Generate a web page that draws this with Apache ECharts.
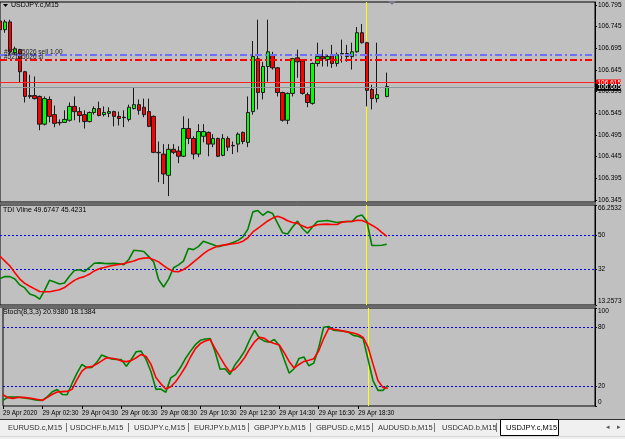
<!DOCTYPE html>
<html><head><meta charset="utf-8">
<script src="https://cdn.jsdelivr.net/npm/echarts@6/dist/echarts.min.js"></script>
<style>html,body{margin:0;padding:0;background:#c0c0c0;}#c{width:625px;height:439px;}</style>
</head><body><div id="c"></div><script>
// ---- data ----
const symbol = 'USDJPY.c,M15';
const opens = [106.758,106.738,106.756,106.685,106.692,106.641,106.586,106.586,106.584,106.520,106.577,106.542,106.524,106.524,106.529,106.561,106.549,106.542,106.526,106.547,106.556,106.542,106.545,106.549,106.538,106.536,106.531,106.556,106.565,106.559,106.549,106.538,106.455,106.451,106.402,106.462,106.458,106.446,106.510,106.487,106.451,106.492,106.501,106.474,106.487,106.448,106.487,106.471,106.474,106.501,106.478,106.549,106.671,106.593,106.653,106.680,106.650,106.593,106.529,106.591,106.673,106.666,106.588,106.568,106.660,106.676,106.669,106.678,106.660,106.683,106.683,106.676,106.687,106.731,106.708,106.600,106.579,null,106.584];
const closes = [106.738,106.756,106.687,106.694,106.641,106.584,106.584,106.579,106.520,106.579,106.538,106.522,106.523,106.531,106.561,106.549,106.540,106.526,106.547,106.556,106.540,106.547,106.549,106.538,106.533,106.535,106.559,106.565,106.552,106.542,106.515,106.455,106.454,106.405,106.462,106.455,106.446,106.510,106.487,106.451,106.503,106.503,106.474,106.487,106.446,106.487,106.467,106.470,106.497,106.480,106.547,106.676,106.593,106.653,106.687,106.650,106.593,106.529,106.591,106.671,106.664,106.591,106.570,106.660,106.676,106.671,106.676,106.660,106.680,106.682,106.676,106.687,106.731,106.708,106.598,106.579,106.588,null,106.607];
const lows = [106.731,106.731,106.680,106.680,106.616,106.570,106.579,106.577,106.506,106.517,106.524,106.513,106.517,106.524,106.526,106.529,106.524,106.510,106.524,106.542,106.538,106.538,106.536,106.515,106.517,106.513,106.526,106.554,106.542,106.536,106.513,106.453,106.386,106.382,106.354,106.451,106.430,106.444,106.474,106.439,106.444,106.478,106.446,106.467,106.444,106.446,106.458,106.451,106.455,106.474,106.467,106.542,106.554,106.577,106.618,106.646,106.584,106.526,106.520,106.584,106.627,106.588,106.559,106.565,106.653,106.653,106.653,106.650,106.653,106.662,106.664,106.646,106.685,106.706,106.561,106.554,106.570,null,106.582];
const highs = [106.777,106.761,106.761,106.699,106.694,106.643,106.634,106.630,106.586,106.584,106.584,106.563,106.531,106.552,106.570,106.584,106.559,106.552,106.549,106.561,106.572,106.561,106.559,106.551,106.549,106.552,106.565,106.604,106.577,106.579,106.579,106.540,106.480,106.474,106.474,106.474,106.469,106.538,106.533,106.492,106.520,106.520,106.503,106.497,106.489,106.497,106.492,106.480,106.501,106.503,106.584,106.712,106.761,106.664,106.761,106.687,106.652,106.595,106.593,106.673,106.692,106.669,106.593,106.662,106.708,106.692,106.680,106.703,106.685,106.715,106.703,106.708,106.744,106.751,106.710,106.611,106.708,null,106.639];
const tdiSignal = [39.1,36.5,33.9,30.4,27.0,24.7,23.2,21.8,20.4,20.3,20.3,20.8,21.3,22.5,24.4,26.3,27.6,28.3,29.5,31.3,32.5,33.1,33.8,34.3,34.7,35.2,35.9,36.6,37.6,38.1,38.3,37.3,36.1,34.1,32.3,31.1,30.9,32.1,33.7,36.0,38.1,40.3,42.2,43.5,44.5,45.0,45.4,45.7,46.1,47.1,48.9,52.0,53.9,55.8,57.8,59.3,60.3,59.4,57.9,57.0,56.5,55.2,54.1,54.9,55.8,56.0,56.1,55.9,55.9,57.2,57.5,57.5,58.2,58.0,57.0,55.5,54.0,51.8,49.6747];
const tdiPrice = [27.3,28.3,28.3,27.0,23.9,22.3,19.1,18.2,16.4,21.0,26.4,25.5,24.4,24.9,28.5,31.5,31.9,31.0,33.0,35.4,35.6,35.3,35.2,35.3,35.1,34.6,37.5,42.3,42.0,41.6,38.9,36.0,26.6,22.8,27.0,33.0,34.5,36.5,43.2,42.6,44.2,47.0,46.1,45.2,44.1,44.8,45.5,46.4,47.5,49.4,53.5,62.6,63.3,60.8,62.8,61.7,56.5,51.5,50.9,54.6,57.7,53.8,51.3,54.6,57.5,57.8,58.0,57.5,57.0,57.4,57.5,57.5,60.2,61.0,57.5,44.8,44.8,44.9,45.4231];
const stochMain = [5.7,9.1,9.1,9.1,8.4,7.7,6.8,6.0,5.7,9.5,14.5,16.9,11.8,11.5,23,33.5,42.5,39,39.3,44.5,52,50,48,47.5,47.3,40.5,47.5,55.3,56,47.5,35,17,17.3,14.0,28.7,32,39.5,48.5,56,62.6,67,68.4,68.8,55.4,37.5,38,32.3,41.8,48.5,56.2,67.6,77.3,69,66.2,65.2,67.9,61.8,47.5,33.6,38,48.5,50,41,43.8,59.8,80.3,81.2,77.3,76.8,76.4,75.5,72.1,71.2,68.8,47.5,26,15.9,15.9,20.938];
const stochSignal = [11.5,8.4,7.8,8.8,8.8,8.3,7.6,6.7,5.8,8.8,12,14.3,14.7,14.9,17,27,35.5,39.7,40.2,42.8,46,49.2,48.7,48,45.8,45.3,46.3,49.2,52.6,50.5,42.5,29,22.6,17.3,19.6,24.7,32,40,50,58.6,63.7,66.3,67.8,58.5,49.8,41.4,34.8,37.5,42.8,49.5,58.2,65.5,70.2,69,65.5,63.7,62.3,54.5,45.5,38.7,42.4,45.5,46.6,48.2,56.3,68.8,79,78.4,77.5,76.4,75.4,74.4,72.9,70,60,43,26,19,18.1384];
const priceTicks = [106.795,106.745,106.695,106.645,106.595,106.545,106.495,106.445,106.395,106.345];
const tdiTicks = [66.2532,50,32,13.2573];
const stochTicks = [100,80,20,0];
const tdiLevels = [50,32];
const stochLevels = [80,20];
const orderLines = {entry:106.680, sl:106.669, ask:106.615, bid:106.605};
const vlineIndex = 74;
const tabs = ['EURUSD.c,M15','USDCHF.b,M15','USDJPY.c,M15','EURJPY.b,M15','GBPJPY.b,M15','GBPUSD.c,M15','AUDUSD.b,M15','USDCAD.b,M15'];
const activeTab = 'USDJPY.c,M15';
const nCats = 121;
// time categories (M15 bars from 29 Apr 00:30)
const categories = [];
for (let i = 0; i < nCats; i++) {
  const m = 30 + 15 * i, d = 29 + Math.floor(m / 1440), mm = m % 1440;
  const h = Math.floor(mm / 60), mi = mm % 60;
  categories.push(d + ' Apr ' + String(h).padStart(2,'0') + ':' + String(mi).padStart(2,'0'));
}
const candles = opens.map((o,i)=> o==null ? '-' : [o, closes[i], lows[i], highs[i]]);

const FONT = 'Liberation Sans';
const chart = echarts.init(document.getElementById('c'), null, {renderer:'canvas'});
const L = 0, W = 595;
const grids = [
  {left:L, width:W, top:2, height:200},
  {left:L, width:W, top:205, height:100},
  {left:L, width:W, top:308, height:98}
].map(g=>Object.assign(g,{show:true, borderColor:'#000', borderWidth:1, backgroundColor:'#c0c0c0'}));
const labelInterval = (idx)=> idx % 8 === 0 && idx <= 72;
const xAxes = [0,1,2].map(i=>({
  type:'category', gridIndex:i, data:categories, boundaryGap:false,
  axisLine:{show:false}, splitLine:{show:false}, splitArea:{show:false},
  axisTick: i===2 ? {show:true, interval:labelInterval, length:3, lineStyle:{color:'#000'}} : {show:false},
  axisLabel: i===2 ? {show:true, interval:labelInterval, hideOverlap:false, align:'left', margin:4, fontSize:6.3, fontFamily:FONT, color:'#000',
     formatter:(v,idx)=> idx===0 ? '29 Apr 2020' : v} : {show:false}
}));
function yAx(i, min, max, ticks){
  return {type:'value', gridIndex:i, position:'right', min, max, scale:true,
    axisLine:{show:true, lineStyle:{color:'#000'}}, splitLine:{show:false}, splitArea:{show:false},
    axisTick:{show:true, customValues:ticks, length:2, lineStyle:{color:'#000'}},
    axisLabel:{show:true, customValues:ticks, hideOverlap:false, margin:3, fontSize:6.5, fontFamily:FONT, color:'#000',
      verticalAlignMaxLabel: i===0 ? 'middle':'bottom', verticalAlignMinLabel: i===0 ? 'middle':'top',
      formatter:(v)=> String(v)}};
}
const yAxes = [yAx(0,106.3404,106.8019,priceTicks), yAx(1,13.2573,66.2532,tdiTicks), yAx(2,0,100,stochTicks)];
const option = {
  animation:false, backgroundColor:'#c0c0c0',
  grid:grids, xAxis:xAxes, yAxis:yAxes,
  series:[
    {type:'candlestick', name:'price', xAxisIndex:0, yAxisIndex:0, data:candles, barWidth:4, z:3,
     itemStyle:{color:'#00ff00', color0:'#ff0000', borderColor:'#1a1a1a', borderColor0:'#1a1a1a', borderWidth:1}},
    {type:'line', xAxisIndex:1, yAxisIndex:1, data:tdiPrice, symbol:'none', z:3, color:'#008000', lineStyle:{color:'#008000', width:1.6}},
    {type:'line', xAxisIndex:1, yAxisIndex:1, data:tdiSignal, symbol:'none', z:3, color:'#ff0000', lineStyle:{color:'#ff0000', width:1.6}},
    {type:'line', xAxisIndex:2, yAxisIndex:2, data:stochMain, symbol:'none', z:3, color:'#008000', lineStyle:{color:'#008000', width:1.6}},
    {type:'line', xAxisIndex:2, yAxisIndex:2, data:stochSignal, symbol:'none', z:3, color:'#ff0000', lineStyle:{color:'#ff0000', width:1.6}}
  ],
  graphic:[]
};
const g = option.graphic;
// panel separators
g.push({type:'rect', shape:{x:0,y:202.5,width:596,height:2.5}, style:{fill:'#6a6a6a'}, z:10});
g.push({type:'rect', shape:{x:0,y:305.5,width:596,height:2.5}, style:{fill:'#6a6a6a'}, z:10});
// header texts
g.push({type:'polygon', shape:{points:[[3,4],[8,4],[5.5,7]]}, style:{fill:'#000'}, z:20});
g.push({type:'text', x:11, y:5.5, style:{text:symbol, font:'7px '+FONT, fill:'#000', verticalAlign:'middle'}, z:20});
g.push({type:'polygon', shape:{points:[[388,1],[396,1],[392,5]]}, style:{fill:'#7c7c8c'}, z:20});
g.push({type:'text', x:4, y:52.5, style:{text:'#52125026 sell 1.00', font:'6.5px '+FONT, fill:'#202020', verticalAlign:'middle'}, z:20});
g.push({type:'text', x:4, y:57, style:{text:'#52125026 sl', font:'6.5px '+FONT, fill:'#202020', verticalAlign:'middle'}, z:20});
g.push({type:'text', x:3, y:210, style:{text:'TDI Vline 49.6747 45.4231', font:'7px '+FONT, fill:'#000', verticalAlign:'middle'}, z:20});
g.push({type:'text', x:3, y:312.5, style:{text:'Stoch(8,3,3) 20.9380 18.1384', font:'7px '+FONT, fill:'#000', verticalAlign:'middle'}, z:20});
// tab bar
g.push({type:'rect', shape:{x:0,y:419,width:625,height:20}, style:{fill:'#f0f0f0'}, z:10});
g.push({type:'line', shape:{x1:0,y1:419.5,x2:625,y2:419.5}, style:{stroke:'#303030', lineWidth:1}, z:11});
const tabX = [8,70,134,194,254,316,378,442];
const sepX = [66,128,188,248,310,372,434,496];
tabs.forEach((t,i)=>{
  g.push({type:'text', x:tabX[i], y:427.5, style:{text:t, font:'7.5px '+FONT, fill:'#333', verticalAlign:'middle'}, z:12});
  g.push({type:'line', shape:{x1:sepX[i]+0.5,y1:423,x2:sepX[i]+0.5,y2:432}, style:{stroke:'#777', lineWidth:1}, z:12});
});
g.push({type:'rect', shape:{x:500.5,y:419.5,width:58,height:16}, style:{fill:'#fff', stroke:'#000', lineWidth:1}, z:12});
g.push({type:'text', x:506, y:427.5, style:{text:activeTab, font:'7.5px '+FONT, fill:'#000', verticalAlign:'middle'}, z:13});
g.push({type:'text', x:606, y:427.5, style:{text:'◂', font:'7px '+FONT, fill:'#555', verticalAlign:'middle'}, z:12});
g.push({type:'text', x:617, y:427.5, style:{text:'▸', font:'7px '+FONT, fill:'#555', verticalAlign:'middle'}, z:12});
g.push({type:'line', shape:{x1:0,y1:436.5,x2:625,y2:436.5}, style:{stroke:'#d8d8d8', lineWidth:1}, z:11});
chart.setOption(option);

// ---- level / order / time lines, positioned through the chart's own axes (pixel-snapped) ----
const px = (xi, cat)=> chart.convertToPixel({xAxisIndex:xi}, cat);
const py = (yi, v)=> chart.convertToPixel({yAxisIndex:yi}, v);
const snap = (v, w)=> (w % 2 === 1) ? Math.round(v - 0.5) + 0.5 : Math.round(v);
function hLine(ai, v, color, width, dash, z){
  const x1 = px(ai, categories[0]), x2 = px(ai, categories[nCats-1]);
  const y = snap(py(ai, v), width);
  g.push({type:'line', silent:true, z, shape:{x1, y1:y, x2, y2:y}, style:{stroke:color, lineWidth:width, lineDash:dash}});
}
[[1,tdiLevels],[2,stochLevels]].forEach(([ai,levels])=> levels.forEach(v=> hLine(ai, v, '#0000ff', 1, [2,2], 2)));
hLine(0, orderLines.bid, '#8a9a9a', 1, null, 5);
hLine(0, orderLines.ask, '#ff2020', 1, null, 5);
hLine(0, orderLines.entry, '#6f6fff', 2, [7,3,2,3], 5);
hLine(0, orderLines.sl, '#ff0000', 2, [7,3,2,3], 5);
[[0,106.8019,106.3404],[1,66.2532,13.2573],[2,100,0]].forEach(([ai,top,bot])=>{
  const x = snap(px(ai, categories[vlineIndex]), 1);
  g.push({type:'line', silent:true, z:2, shape:{x1:x, y1:py(ai,top), x2:x, y2:py(ai,bot)}, style:{stroke:'#ffff00', lineWidth:1}});
});
// price tags on the right scale
[[orderLines.ask,'106.615','#ff0000'],[orderLines.bid,'106.605','#000000']].forEach(([v,txt,bg])=>{
  const y = py(0, v);
  g.push({type:'rect', shape:{x:596, y:y-3.5, width:25, height:7}, style:{fill:bg}, z:30});
  g.push({type:'text', x:597.5, y:y+0.3, style:{text:txt, font:'6.5px '+FONT, fill:'#fff', verticalAlign:'middle'}, z:31});
});
chart.setOption({graphic:g});
</script></body></html>
